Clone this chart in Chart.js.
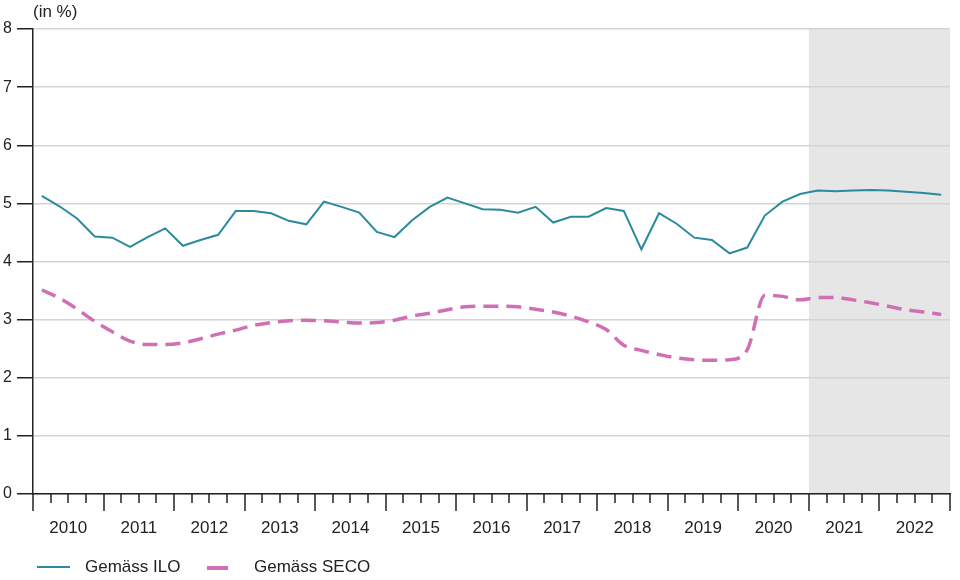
<!DOCTYPE html>
<html lang="de">
<head>
<meta charset="UTF-8">
<title>Erwerbslosenquote</title>
<script src="https://cdn.jsdelivr.net/npm/chart.js"></script>
<style>
  body { margin: 0; background: #fff; font-family: "Liberation Sans", Arial, sans-serif; color: #222; }
  #wrap { position: relative; width: 960px; height: 580px; }
  #unit { position: absolute; left: 33px; top: 2px; font-size: 17px; }
  .leg { position: absolute; top: 556px; font-size: 17px; line-height: 22px; }
  .swatch { position: absolute; top: 566px; height: 0; }
</style>
</head>
<body>
<div id="wrap">
  <canvas id="chart" width="960" height="580"></canvas>
  <div id="unit">(in %)</div>
  <div class="swatch" style="left:37px;width:33px;border-top:2px solid #2b8a9d;"></div>
  <div class="leg" style="left:85px;">Gemäss ILO</div>
  <div class="swatch" style="left:207px;width:21px;border-top:4px solid #d16fb5;"></div>
  <div class="leg" style="left:254px;">Gemäss SECO</div>
</div>
<script>
// Jahre (je 4 Quartale)
const years = ['2010','2011','2012','2013','2014','2015','2016','2017','2018','2019','2020','2021','2022'];

// Quartalswerte 2010 Q1 - 2022 Q4
const ilo = [
  5.13, 4.95, 4.74, 4.43, 4.41, 4.25, 4.42, 4.57, 4.27, 4.37, 4.46, 4.87, 4.87,
  4.83, 4.70, 4.64, 5.03, 4.94, 4.84, 4.51, 4.42, 4.71, 4.94, 5.10, 5.00, 4.90,
  4.89, 4.84, 4.94, 4.67, 4.77, 4.77, 4.92, 4.87, 4.21, 4.83, 4.65, 4.41, 4.37,
  4.14, 4.24, 4.79, 5.03, 5.16, 5.22, 5.21, 5.22, 5.23, 5.22, 5.20, 5.18, 5.15
];
const seco = [
  3.51, 3.37, 3.18, 2.97, 2.79, 2.63, 2.57, 2.57, 2.60, 2.67, 2.75, 2.82, 2.90,
  2.95, 2.98, 2.99, 2.98, 2.96, 2.94, 2.95, 2.99, 3.06, 3.11, 3.17, 3.22, 3.23,
  3.23, 3.22, 3.18, 3.13, 3.06, 2.96, 2.83, 2.56, 2.47, 2.40, 2.34, 2.31, 2.30,
  2.31, 2.48, 3.42, 3.40, 3.34, 3.38, 3.38, 3.34, 3.29, 3.23, 3.17, 3.13, 3.09
];

// Prognosebereich ab 2021
const forecastStart = 44;
const nQuarters = years.length * 4;

const toPoints = arr => arr.map((v, i) => ({ x: i + 0.5, y: v }));

const shadePlugin = {
  id: 'shade',
  beforeDraw(chart) {
    const { ctx, chartArea, scales } = chart;
    const x0 = scales.x.getPixelForValue(forecastStart);
    const x1 = scales.x.getPixelForValue(nQuarters);
    ctx.save();
    ctx.fillStyle = '#e6e6e6';
    ctx.fillRect(x0, chartArea.top, x1 - x0, chartArea.bottom - chartArea.top);
    ctx.restore();
  }
};

// Quartals- und Jahresstriche unter der x-Achse
const xTicksPlugin = {
  id: 'xticks',
  afterDraw(chart) {
    const { ctx, chartArea, scales } = chart;
    ctx.save();
    ctx.strokeStyle = '#222';
    ctx.lineWidth = 1.5;
    for (let v = 0; v <= nQuarters; v++) {
      const x = Math.round(scales.x.getPixelForValue(v));
      const len = v % 4 === 0 ? 17 : 9;
      ctx.beginPath();
      ctx.moveTo(x, chartArea.bottom);
      ctx.lineTo(x, chartArea.bottom + len);
      ctx.stroke();
    }
    ctx.restore();
  }
};

Chart.defaults.font.family = '"Liberation Sans", Arial, sans-serif';
Chart.defaults.color = '#222';

new Chart(document.getElementById('chart'), {
  type: 'line',
  data: {
    datasets: [
      {
        label: 'Gemäss ILO',
        data: toPoints(ilo),
        borderColor: '#2b8a9d',
        borderWidth: 2,
        pointRadius: 0,
        tension: 0
      },
      {
        label: 'Gemäss SECO',
        data: toPoints(seco),
        borderColor: '#d16fb5',
        borderWidth: 3.5,
        borderDash: [15, 8],
        pointRadius: 0,
        cubicInterpolationMode: 'monotone'
      }
    ]
  },
  options: {
    responsive: false,
    animation: false,
    layout: { padding: { top: 29, right: 10, bottom: 41, left: 0 } },
    plugins: { legend: { display: false }, tooltip: { enabled: false } },
    scales: {
      x: {
        type: 'linear',
        min: 0,
        max: nQuarters,
        afterBuildTicks: scale => {
          scale.ticks = [];
          for (let v = 0; v <= nQuarters; v++) scale.ticks.push({ value: v });
        },
        afterFit: scale => {
          scale.height = 45;
          scale.paddingLeft = 0;
          scale.paddingRight = 0;
        },
        ticks: {
          autoSkip: false,
          maxRotation: 0,
          padding: 24,
          font: { size: 17 },
          callback: v => (v % 4 === 2 ? years[(v - 2) / 4] : '')
        },
        grid: { display: false, drawTicks: false },
        border: { display: true, color: '#222', width: 1.5 }
      },
      y: {
        min: 0,
        max: 8,
        afterFit: scale => { scale.width = 33; },
        ticks: { stepSize: 1, padding: 5, font: { size: 16 } },
        grid: { color: '#d4d4d4', lineWidth: 1.5, tickColor: '#222', tickLength: 16 },
        border: { display: true, color: '#222', width: 1.5 }
      }
    }
  },
  plugins: [shadePlugin, xTicksPlugin]
});
</script>
</body>
</html>
